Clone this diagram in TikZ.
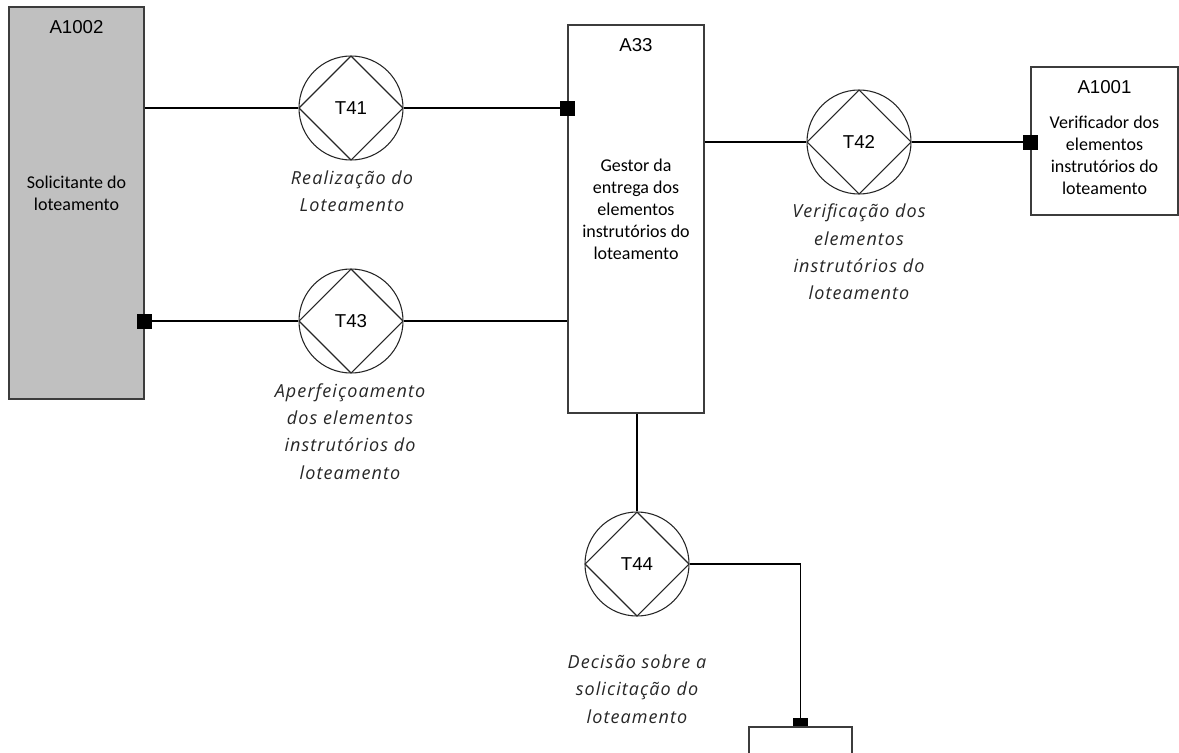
\documentclass[tikz,border=0pt]{standalone}
\usepackage{fontspec}
\setmainfont{Carlito}
\newfontfamily\idfont{Liberation Sans}
\newfontfamily\txfont{Open Sans}[LetterSpace=6]
\definecolor{boxline}{HTML}{3C3C3C}
\definecolor{actorfill}{HTML}{C0C0C0}
\begin{document}
\begin{tikzpicture}[x=0.75pt,y=-0.75pt,
  actor/.style={draw=boxline, line width=1.1pt, fill=white, inner sep=0pt},
  ident/.style={font=\idfont\fontsize{14}{16}\selectfont, inner sep=0pt},
  role/.style={font=\fontsize{13.5}{16.5}\selectfont, align=center, inner sep=0pt},
  tx/.style={circle, draw=black!85, line width=0.8pt, minimum size=78pt, inner sep=0pt,
    font=\idfont\fontsize{14}{16}\selectfont,
    path picture={\draw[black!85, line width=0.8pt]
      (path picture bounding box.north) -- (path picture bounding box.east) --
      (path picture bounding box.south) -- (path picture bounding box.west) -- cycle;}},
  txlabel/.style={font=\txfont\itshape\fontsize{13.5}{20.5}\selectfont, align=center, inner sep=0pt, text=black!85},
  link/.style={draw=black, line width=1pt},
  endsq/.style={fill=black, minimum size=11.25pt, inner sep=0pt},
]
\useasboundingbox (0,0) rectangle (1179,753);

% actors
\node[actor, fill=actorfill, minimum width=101.25pt, minimum height=294pt] (A1002) at (76.5,203) {};
\node[ident] (A1002id) at (76.5,27) {A1002};
\node[role] (A1002txt) at (76.5,193) {Solicitante do\\loteamento};

\node[actor, minimum width=102pt, minimum height=291pt] (A33) at (636,219) {};
\node[ident] (A33id) at (636,45) {A33};
\node[role] (A33txt) at (636,209) {Gestor da\\entrega dos\\elementos\\instrutórios do\\loteamento};

\node[actor, minimum width=110.25pt, minimum height=111pt] (A1001) at (1104.5,141) {};
\node[ident] (A1001id) at (1104.5,87) {A1001};
\node[role] (A1001txt) at (1104.5,155) {Verificador dos\\elementos\\instrutórios do\\loteamento};

\node[actor, minimum width=77.25pt, minimum height=45pt] (Abot) at (800.5,757) {};

% transactions
\node[tx] (T41) at (351,108) {T41};
\node[tx] (T43) at (351,321) {T43};
\node[tx] (T42) at (859,142) {T42};
\node[tx] (T44) at (637,564) {T44};

\node[txlabel] (T41lbl) at (352,191) {Realização do\\Loteamento};
\node[txlabel] (T42lbl) at (859,252) {Verificação dos\\elementos\\instrutórios do\\loteamento};
\node[txlabel] (T43lbl) at (350,431.5) {Aperfeiçoamento\\dos elementos\\instrutórios do\\loteamento};
\node[txlabel] (T44lbl) at (637,689) {Decisão sobre a\\solicitação do\\loteamento};

% connectors
\draw[link] (A1002.east |- T41) -- (T41.west);
\draw[link] (T41.east) -- (A33.west |- T41);
\draw[link] (A33.east |- T42) -- (T42.west);
\draw[link] (T42.east) -- (A1001.west |- T42);
\draw[link] (A1002.east |- T43) -- (T43.west);
\draw[link] (T43.east) -- (A33.west |- T43);
\draw[link] (A33.south -| T44) -- (T44.north);
\draw[link] (T44.east) -| (Abot.north);

% executor markers
\node[endsq] (sq41) at (A33.west |- T41) {};
\node[endsq] (sq42) at (A1001.west |- T42) {};
\node[endsq] (sq43) at (A1002.east |- T43) {};
\node[endsq, minimum height=6pt, anchor=south] (sq44) at (Abot.north) {};
\end{tikzpicture}
\end{document}
